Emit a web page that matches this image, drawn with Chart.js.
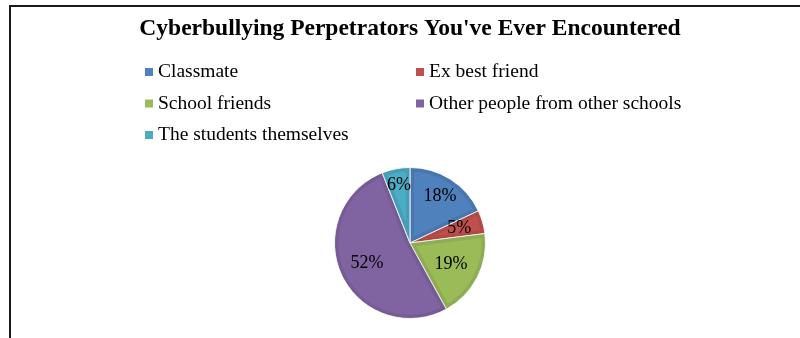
<!DOCTYPE html>
<html>
<head>
<meta charset="utf-8">
<script src="https://cdn.jsdelivr.net/npm/chart.js@4.4.1/dist/chart.umd.min.js"></script>
<style>
  html, body { margin: 0; padding: 0; background: #fff; }
  #wrap { position: relative; width: 800px; height: 338px; overflow: hidden; }
  #frame {
    position: absolute; left: 9px; top: 5px; width: 900px; height: 400px;
    border-left: 2px solid #1a1a1a; border-top: 2px solid #1a1a1a;
  }
  #chart { position: absolute; left: 0; top: 0; }
</style>
</head>
<body>
<div id="wrap">
  <div id="frame"></div>
  <canvas id="chart" width="800" height="338"></canvas>
</div>
<script>
var categories = ['Classmate', 'Ex best friend', 'School friends', 'Other people from other schools', 'The students themselves'];
var shares = [18, 5, 19, 52, 6];
var colours = ['#4F81BD', '#C0504D', '#9BBB59', '#8064A2', '#4BACC6'];
// how far out (as a fraction of the radius) each percent label sits
var labelRadius = [0.74, 0.68, 0.61, 0.63, 0.78];

var SERIF = '"Liberation Serif", "Times New Roman", serif';

// slight darker rim inside every slice
var bevel = {
  id: 'bevel',
  afterDatasetsDraw: function(chart){
    var ctx = chart.ctx;
    chart.getDatasetMeta(0).data.forEach(function(arc){
      var p = arc.getProps(['x', 'y', 'startAngle', 'endAngle', 'outerRadius']);
      ctx.save();
      ctx.beginPath();
      ctx.moveTo(p.x, p.y);
      ctx.arc(p.x, p.y, p.outerRadius, p.startAngle, p.endAngle);
      ctx.closePath();
      ctx.clip();
      ctx.lineWidth = 8;
      ctx.strokeStyle = 'rgba(0,0,0,0.08)';
      ctx.stroke();
      ctx.restore();
    });
  }
};

// percent labels on the slices
var sliceLabels = {
  id: 'sliceLabels',
  afterDatasetsDraw: function(chart){
    var ctx = chart.ctx;
    var values = chart.data.datasets[0].data;
    ctx.save();
    ctx.font = '18px ' + SERIF;
    ctx.fillStyle = '#000';
    ctx.textAlign = 'center';
    ctx.textBaseline = 'middle';
    chart.getDatasetMeta(0).data.forEach(function(arc, i){
      var p = arc.getProps(['x', 'y', 'startAngle', 'endAngle', 'outerRadius']);
      var mid = (p.startAngle + p.endAngle) / 2;
      var r = p.outerRadius * labelRadius[i];
      ctx.fillText(values[i] + '%', p.x + Math.cos(mid) * r, p.y + Math.sin(mid) * r);
    });
    ctx.restore();
  }
};

// two-column legend under the title
var gridLegend = {
  id: 'gridLegend',
  afterDraw: function(chart){
    var ctx = chart.ctx;
    var cols = [145, 416];
    var firstBaseline = 77, rowStep = 31.5;
    ctx.save();
    ctx.font = '19.5px ' + SERIF;
    ctx.textBaseline = 'alphabetic';
    ctx.textAlign = 'left';
    chart.data.labels.forEach(function(name, i){
      var x = cols[i % 2];
      var y = firstBaseline + Math.floor(i / 2) * rowStep;
      ctx.fillStyle = chart.data.datasets[0].backgroundColor[i];
      ctx.fillRect(x, y - 9, 8, 8);
      ctx.fillStyle = '#000';
      ctx.fillText(name, x + 13, y);
    });
    ctx.restore();
  }
};

new Chart(document.getElementById('chart').getContext('2d'), {
  type: 'pie',
  data: {
    labels: categories,
    datasets: [{
      data: shares,
      backgroundColor: colours,
      borderColor: '#ffffff',
      borderWidth: 1
    }]
  },
  options: {
    responsive: false,
    animation: false,
    layout: { padding: { top: 0, bottom: 19, left: 20, right: 0 } },
    plugins: {
      legend: { display: false },
      tooltip: { enabled: false },
      title: {
        display: true,
        text: "Cyberbullying Perpetrators You've Ever Encountered",
        color: '#000',
        font: { family: SERIF, size: 23.5, weight: 'bold', lineHeight: 1.2 },
        padding: { top: 15, bottom: 123.8 }
      }
    }
  },
  plugins: [bevel, sliceLabels, gridLegend]
});
</script>
</body>
</html>
